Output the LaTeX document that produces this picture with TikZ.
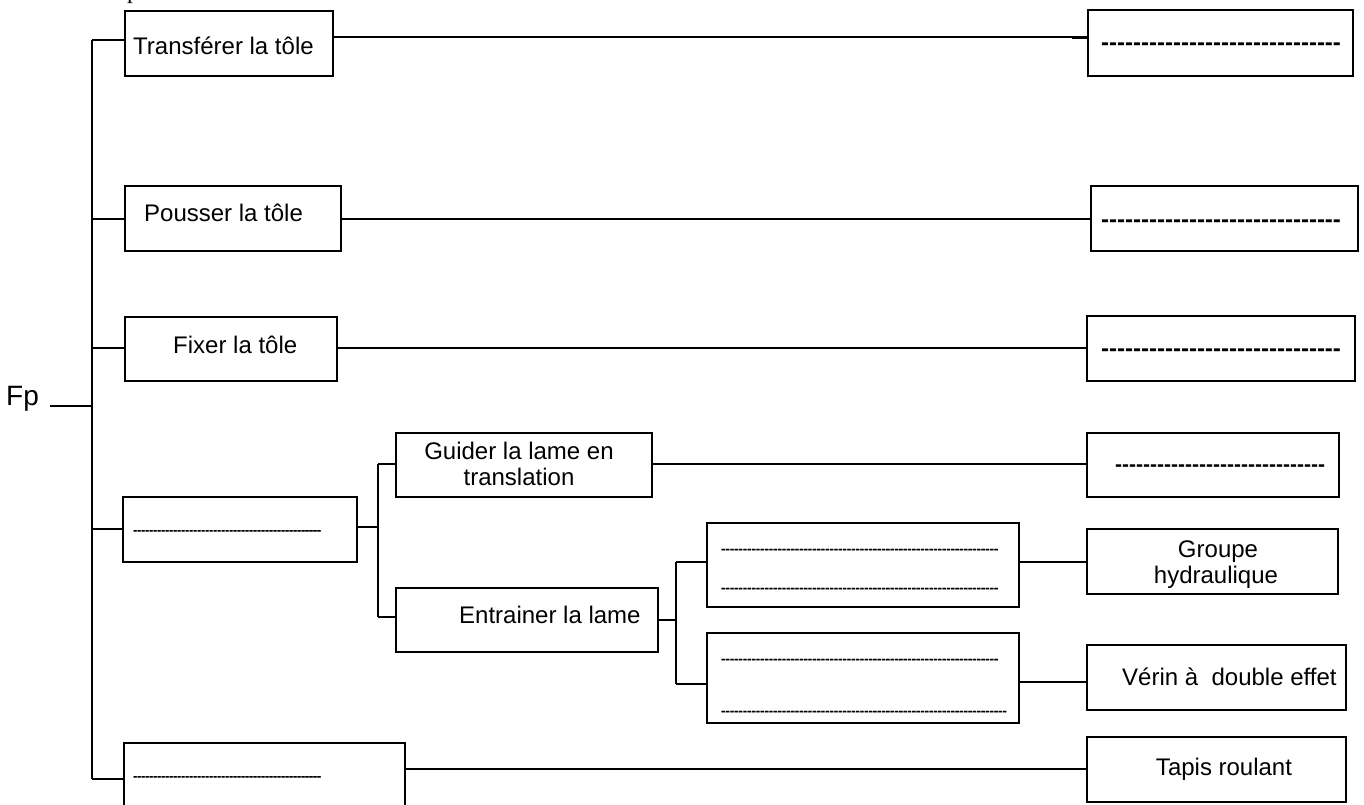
\documentclass[tikz,border=0pt]{standalone}
\usepackage{fontspec}
\setmainfont{Liberation Sans}
\newfontfamily\seriff{Liberation Serif}
\newfontfamily\smalldash{Liberation Sans Bold}[FakeBold=1.2]
\ExplSyntaxOn
\NewDocumentCommand\hyph{m}{\prg_replicate:nn{#1}{-\kern0pt}}
\ExplSyntaxOff
\newcommand\bx[5]{\node[box,anchor=north west,minimum width={#4pt-#2pt},minimum height={#5pt-#3pt}] (#1) at (#2,#3) {};}
\begin{document}
\begin{tikzpicture}[x=1pt,y=-1pt,
  box/.style={draw,line width=1.4pt,rectangle,inner sep=0pt,outer sep=0pt},
  ln/.style={line width=1.4pt},
  txt/.style={inner sep=0pt,font=\fontsize{24}{26}\selectfont},
  dsh/.style={inner sep=0pt,anchor=base west,font=\bfseries\fontsize{#1}{#1}\selectfont},
  sdsh/.style={inner sep=0pt,anchor=base west,font=\smalldash\fontsize{#1}{#1}\selectfont}]
\useasboundingbox (0,0) rectangle (1364,805);
\fill[white] (0,0) rectangle (1364,805);
% boxes
\bx{b1}{125}{11}{333}{76}
\bx{r1}{1088}{10}{1353}{76}
\bx{b2}{125}{186}{341}{251}
\bx{r2}{1091}{186}{1358}{251}
\bx{b3}{125}{317}{337}{381}
\bx{r3}{1087}{316}{1355}{381}
\bx{b4}{123}{497}{357}{562}
\bx{g}{396}{433}{652}{497}
\bx{rg}{1087}{433}{1339}{497}
\bx{e}{396}{588}{658}{652}
\bx{ba}{707}{523}{1019}{607}
\bx{bb}{707}{633}{1019}{723}
\bx{gh}{1087}{529}{1338}{594}
\bx{ve}{1087}{645}{1346}{710}
\bx{b5}{124}{743}{405}{830}
\bx{ta}{1087}{737}{1346}{802}
% texts
\node[inner sep=0pt,anchor=base west,font=\seriff\fontsize{24}{26}\selectfont] (pp) at (127,-1) {p};
\node[inner sep=0pt,anchor=base west,font=\fontsize{28}{30}\selectfont] (fp) at (6,405) {Fp};
\node[txt,anchor=base west] (t1) at (133,55) {Transférer la tôle};
\node[txt,anchor=base west] (t2) at (144,221) {Pousser la tôle};
\node[txt,anchor=base west] (t3) at (173,353) {Fixer la tôle};
\node[txt,anchor=base] (t4a) at (519,459) {Guider la lame en};
\node[txt,anchor=base] (t4b) at (519,485) {translation};
\node[txt,anchor=base west] (t5) at (459,623) {Entrainer la lame};
\node[txt,anchor=base] (t6a) at (1218,557) {Groupe};
\node[txt,anchor=base] (t6b) at (1216,583) {hydraulique};
\node[txt,anchor=base west] (t7) at (1122,685) {Vérin à\ \ double effet};
\node[txt,anchor=base] (t8) at (1224,775) {Tapis roulant};
% dashes
\node[dsh=24] (d1) at (1101,51) {\hyph{30}};
\node[dsh=24] (d2) at (1101,227) {\hyph{30}};
\node[dsh=24] (d3) at (1101,356) {\hyph{30}};
\node[dsh=21] (d4) at (1115,471) {\hyph{30}};
\node[sdsh=12] (d5) at (133,534) {\hyph{47}};
\node[sdsh=12] (d6) at (133,780) {\hyph{47}};
\node[sdsh=13] (d7) at (721,553) {\hyph{64}};
\node[sdsh=13] (d8) at (721,592) {\hyph{64}};
\node[sdsh=13] (d9) at (721,663) {\hyph{64}};
\node[sdsh=13] (d10) at (721,715) {\hyph{66}};
% spine
\coordinate (s1) at (92,40);
\coordinate (s2) at (92,219);
\coordinate (s3) at (92,348);
\coordinate (s0) at (92,406);
\coordinate (s4) at (92,529);
\coordinate (s5) at (92,779);
\coordinate (fpe) at (50,406);
\draw[ln] (s1) -- (s5);
\draw[ln] (fpe) -- (s0);
\draw[ln] (s1) -- (s1 -| b1.west);
\draw[ln] (s2) -- (s2 -| b2.west);
\draw[ln] (s3) -- (s3 -| b3.west);
\draw[ln] (s4) -- (s4 -| b4.west);
\draw[ln] (s5) -- (s5 -| b5.west);
% right lines
\draw[ln] (b1.east |- 0,37) -- (r1.west |- 0,37);
\draw[line width=2.4pt] (1072,37.5) -- (r1.west |- 0,37.5);
\draw[ln] (b2.east |- 0,219) -- (r2.west |- 0,219);
\draw[ln] (b3.east |- 0,348) -- (r3.west |- 0,348);
% row 4
\coordinate (j4) at (378,527);
\coordinate (j4a) at (378,464);
\coordinate (j4b) at (378,617);
\draw[ln] (b4.east |- j4) -- (j4);
\draw[ln] (j4a) -- (j4b);
\draw[ln] (j4a) -- (j4a -| g.west);
\draw[ln] (j4b) -- (j4b -| e.west);
\draw[ln] (g.east |- 0,464) -- (rg.west |- 0,464);
\coordinate (j5) at (676,620);
\coordinate (j5a) at (676,562);
\coordinate (j5b) at (676,684);
\draw[ln] (e.east |- j5) -- (j5);
\draw[ln] (j5a) -- (j5b);
\draw[ln] (j5a) -- (j5a -| ba.west);
\draw[ln] (j5b) -- (j5b -| bb.west);
\draw[ln] (ba.east |- 0,562) -- (gh.west |- 0,562);
\draw[ln] (bb.east |- 0,682) -- (ve.west |- 0,682);
\draw[ln] (b5.east |- 0,769) -- (ta.west |- 0,769);
\end{tikzpicture}
\end{document}
